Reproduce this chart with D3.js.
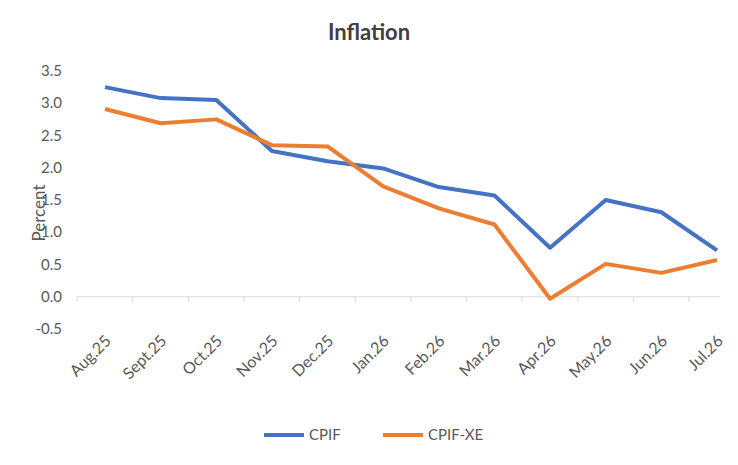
<!DOCTYPE html>
<html>
<head>
<meta charset="utf-8">
<script src="https://cdn.jsdelivr.net/npm/d3@7"></script>
<style>
body { margin: 0; background: #fff; }
text { font-family: Lato, "Open Sans", sans-serif; fill: #595959; }
</style>
</head>
<body>
<svg id="chart" width="738" height="465"></svg>
<script>
var months = ["Aug.25", "Sept.25", "Oct.25", "Nov.25", "Dec.25", "Jan.26", "Feb.26", "Mar.26", "Apr.26", "May.26", "Jun.26", "Jul.26"]
var cpif = [3.25, 3.08, 3.05, 2.26, 2.10, 1.99, 1.70, 1.57, 0.76, 1.50, 1.31, 0.72]
var cpifXe = [2.91, 2.69, 2.75, 2.35, 2.33, 1.71, 1.37, 1.12, -0.03, 0.51, 0.37, 0.57]
var yTicks = [-0.5, 0, 0.5, 1, 1.5, 2, 2.5, 3, 3.5]

var svg = d3.select("#chart")

var x = d3.scalePoint().domain(months).range([105, 717])
var y = d3.scaleLinear().domain([-0.5, 3.5]).range([329, 71])

svg.append("text")
    .attr("x", 369).attr("y", 40)
    .attr("text-anchor", "middle")
    .attr("font-size", 22).attr("font-weight", "bold")
    .style("fill", "#404040")
    .text("Inflation")

// y tick labels
svg.selectAll(".ylab")
    .data(yTicks)
    .enter().append("text")
    .attr("x", 62)
    .attr("y", function(d) { return y(d) + 5 })
    .attr("text-anchor", "end")
    .attr("font-size", 15)
    .text(function(d) { return d.toFixed(1) })

svg.append("text")
    .attr("transform", "translate(45,213) rotate(-90)")
    .attr("text-anchor", "middle")
    .attr("font-size", 17)
    .text("Percent")

// zero axis line
svg.append("line")
    .attr("x1", 77).attr("x2", 720)
    .attr("y1", y(0)).attr("y2", y(0))
    .attr("stroke", "#d9d9d9").attr("stroke-width", 1)

// x tick marks
svg.selectAll(".xtick")
    .data(months.concat(["end"]))
    .enter().append("line")
    .attr("x1", function(d, i) { return 77 + i * x.step() })
    .attr("x2", function(d, i) { return 77 + i * x.step() })
    .attr("y1", y(0)).attr("y2", y(0) + 5)
    .attr("stroke", "#d9d9d9")

// x labels rotated
svg.selectAll(".xlab")
    .data(months)
    .enter().append("text")
    .attr("transform", function(d) { return "translate(" + (x(d) + 7) + ",342) rotate(-45)" })
    .attr("text-anchor", "end")
    .attr("font-size", 16)
    .text(function(d) { return d })

var line = d3.line()
    .x(function(d, i) { return x(months[i]) })
    .y(function(d) { return y(d) })

svg.append("path").datum(cpif)
    .attr("fill", "none").attr("stroke", "#4472C4").attr("stroke-width", 4)
    .attr("stroke-linejoin", "round").attr("d", line)

svg.append("path").datum(cpifXe)
    .attr("fill", "none").attr("stroke", "#ED7D31").attr("stroke-width", 4)
    .attr("stroke-linejoin", "round").attr("d", line)

// legend
var legend = [["CPIF", "#4472C4", 264], ["CPIF-XE", "#ED7D31", 383]]
legend.forEach(function(l) {
    svg.append("line")
        .attr("x1", l[2]).attr("x2", l[2] + 40)
        .attr("y1", 435).attr("y2", 435)
        .attr("stroke", l[1]).attr("stroke-width", 4)
    svg.append("text")
        .attr("x", l[2] + 45).attr("y", 440)
        .attr("font-size", 15)
        .text(l[0])
})
</script>
</body>
</html>
